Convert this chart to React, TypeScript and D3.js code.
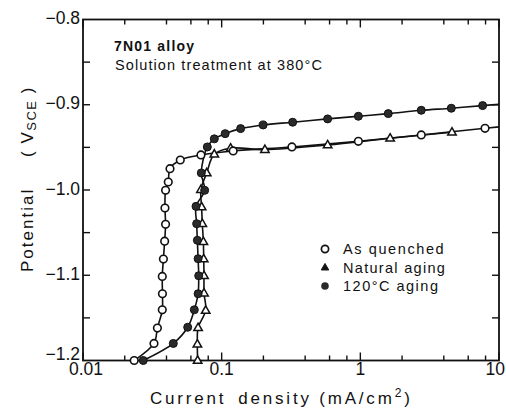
import React, { useEffect, useRef } from 'react';
import * as d3 from 'd3';

// current density (mA/cm2) and potential (V vs SCE)
const quenchedI = [0.0234, 0.0325, 0.0344, 0.0373, 0.0374, 0.0373, 0.038, 0.0388, 0.0394, 0.039, 0.0394, 0.0412, 0.0424, 0.0503, 0.0709, 0.121, 0.321, 0.968, 2.75, 7.93];
const quenchedE = [-1.2, -1.18, -1.162, -1.1405, -1.1217, -1.1014, -1.081, -1.06, -1.0403, -1.0211, -1.0004, -0.9906, -0.975, -0.9648, -0.9589, -0.9542, -0.9495, -0.9429, -0.9354, -0.9276];

const naturalI = [0.0671, 0.0668, 0.0676, 0.0767, 0.0746, 0.0746, 0.0742, 0.0738, 0.0725, 0.0717, 0.0709, 0.078, 0.0885, 0.116, 0.205, 0.581, 1.64, 4.58];
const naturalE = [-1.2, -1.181, -1.1616, -1.1413, -1.121, -1.1006, -1.081, -1.0607, -1.0395, -1.02, -0.9996, -0.98, -0.958, -0.951, -0.9526, -0.9472, -0.9393, -0.9323];

const aging120I = [0.0272, 0.0448, 0.0569, 0.0635, 0.0676, 0.0683, 0.0676, 0.0668, 0.066, 0.0653, 0.0754, 0.0713, 0.0788, 0.0885, 0.106, 0.137, 0.199, 0.325, 0.581, 0.968, 1.59, 2.75, 4.53, 7.62];
const aging120E = [-1.2, -1.18, -1.161, -1.1405, -1.1217, -1.1006, -1.0806, -1.059, -1.0395, -1.0192, -1.0004, -0.98, -0.9495, -0.94, -0.9339, -0.928, -0.9237, -0.9205, -0.9166, -0.9135, -0.9104, -0.9065, -0.9041, -0.901];

// where the two upper lines leave the frame at 10 mA/cm2
const lineEndI = 10;
const quenchedEndE = -0.926;
const aging120EndE = -0.8995;

const xTickValues = [0.01, 0.1, 1, 10];
const xTickLabels = ['0.01', '0.1', '1', '10'];
const yTickValues = [-0.8, -0.9, -1.0, -1.1, -1.2];
const yTickLabels = ['−0.8', '−0.9', '−1.0', '−1.1', '−1.2'];
const legendLabels = ['As quenched', 'Natural aging', '120°C aging'];

const W = 506;
const H = 408;
const FONT = '"Liberation Sans", Arial, sans-serif';

const App: React.FC = () => {
  const svgRef = useRef<SVGSVGElement>(null);

  useEffect(() => {
    if (!svgRef.current) return;
    d3.select(svgRef.current).selectAll('*').remove();

    const left = 83, right = 499, top = 19.5, bottom = 360.5;
    const svg = d3.select(svgRef.current).attr('width', W).attr('height', H);

    const x = d3.scaleLog().domain([0.01, 10]).range([left, right]);
    const y = d3.scaleLinear().domain([-1.2, -0.8]).range([bottom, top]);

    svg.append('defs').append('clipPath').attr('id', 'plot-clip')
      .append('rect').attr('x', left).attr('y', top).attr('width', right - left).attr('height', bottom - top);

    // frame
    svg.append('rect')
      .attr('x', left).attr('y', top).attr('width', right - left).attr('height', bottom - top)
      .attr('fill', 'none').attr('stroke', '#111').attr('stroke-width', 1.8);

    // x ticks (inward, top and bottom)
    const minorX: number[] = [];
    [0.01, 0.1, 1].forEach((d) => [2, 4, 6, 8].forEach((m) => minorX.push(d * m)));
    const tickG = svg.append('g').attr('stroke', '#111').attr('stroke-width', 1.4);
    xTickValues.forEach((v) => {
      tickG.append('line').attr('x1', x(v)).attr('x2', x(v)).attr('y1', bottom).attr('y2', bottom - 8);
      tickG.append('line').attr('x1', x(v)).attr('x2', x(v)).attr('y1', top).attr('y2', top + 8);
    });
    minorX.forEach((v) => {
      tickG.append('line').attr('x1', x(v)).attr('x2', x(v)).attr('y1', bottom).attr('y2', bottom - 5);
      tickG.append('line').attr('x1', x(v)).attr('x2', x(v)).attr('y1', top).attr('y2', top + 5);
    });
    // y ticks every 0.05 (inward, left and right)
    d3.range(-1.15, -0.8, 0.05).forEach((v) => {
      tickG.append('line').attr('x1', left).attr('x2', left + 7).attr('y1', y(v)).attr('y2', y(v));
      tickG.append('line').attr('x1', right).attr('x2', right - 7).attr('y1', y(v)).attr('y2', y(v));
    });

    // tick labels
    const labelG = svg.append('g').attr('font-family', FONT).attr('font-size', 17.5).attr('fill', '#111');
    yTickValues.forEach((v, i) => {
      labelG.append('text')
        .attr('x', left - 3)
        .attr('y', y(v) + (i === yTickValues.length - 1 ? -5 : 0))
        .attr('text-anchor', 'end')
        .attr('dominant-baseline', 'middle')
        .text(yTickLabels[i]);
    });
    xTickValues.forEach((v, i) => {
      const last = i === xTickValues.length - 1;
      labelG.append('text')
        .attr('x', last ? W - 1 : x(v) + (i === 0 ? 3 : 0))
        .attr('y', 375)
        .attr('text-anchor', last ? 'end' : 'middle')
        .text(xTickLabels[i]);
    });

    // axis titles
    const xt = svg.append('text')
      .attr('x', 150).attr('y', 404)
      .attr('font-family', FONT).attr('font-size', 17).attr('letter-spacing', 2.8).attr('fill', '#111');
    xt.append('tspan').text('Current');
    xt.append('tspan').attr('dx', 12).text('density (mA/cm');
    xt.append('tspan').attr('font-size', 12).attr('baseline-shift', '7').text('2');
    xt.append('tspan').text(')');

    const yt = svg.append('g').attr('transform', 'translate(33,0) rotate(-90)')
      .attr('font-family', FONT).attr('font-size', 17).attr('fill', '#111');
    yt.append('text').attr('x', -272).attr('y', 0).attr('letter-spacing', 2).text('Potential');
    const yv = yt.append('text').attr('x', -157).attr('y', 0).attr('letter-spacing', 1.5);
    yv.append('tspan').text('( V');
    yv.append('tspan').attr('font-size', 13).attr('baseline-shift', '-3').text('SCE');
    yv.append('tspan').text(' )');

    // annotation
    svg.append('text').attr('x', 114).attr('y', 51)
      .attr('font-family', FONT).attr('font-size', 14).attr('font-weight', 'bold')
      .attr('letter-spacing', 1.2).attr('fill', '#111').text('7N01 alloy');
    svg.append('text').attr('x', 115).attr('y', 70)
      .attr('font-family', FONT).attr('font-size', 14.5).attr('letter-spacing', 1.1)
      .attr('fill', '#111').text('Solution treatment at 380°C');

    // curves
    type P = [number, number];
    const line = d3.line<P>()
      .x((d) => x(d[0]))
      .y((d) => y(d[1]))
      .curve(d3.curveCatmullRom.alpha(0.5));

    const quenched: P[] = quenchedI.map((v, i) => [v, quenchedE[i]]);
    const natural: P[] = naturalI.map((v, i) => [v, naturalE[i]]);
    const aging120: P[] = aging120I.map((v, i) => [v, aging120E[i]]);

    const plot = svg.append('g').attr('clip-path', 'url(#plot-clip)');
    const lineSets: P[][] = [
      [...quenched, [lineEndI, quenchedEndE]],
      natural,
      [...aging120, [lineEndI, aging120EndE]],
    ];
    lineSets.forEach((pts) => {
      plot.append('path').datum(pts)
        .attr('fill', 'none').attr('stroke', '#111').attr('stroke-width', 1.6)
        .attr('d', line);
    });

    const tri = (cx: number, cy: number, s: number) => {
      const h = s * 0.87;
      return `M${cx},${cy - h * 0.62}L${cx + s / 2},${cy + h * 0.38}L${cx - s / 2},${cy + h * 0.38}Z`;
    };

    const marks = svg.append('g');
    natural.forEach((d) => {
      marks.append('path').attr('d', tri(x(d[0]), y(d[1]), 8.5))
        .attr('fill', '#fff').attr('stroke', '#111').attr('stroke-width', 1.5);
    });
    quenched.forEach((d) => {
      marks.append('circle').attr('cx', x(d[0])).attr('cy', y(d[1])).attr('r', 3.8)
        .attr('fill', '#fff').attr('stroke', '#111').attr('stroke-width', 1.6);
    });
    aging120.forEach((d) => {
      marks.append('circle').attr('cx', x(d[0])).attr('cy', y(d[1])).attr('r', 4)
        .attr('fill', '#2a2a2a').attr('stroke', '#111').attr('stroke-width', 1);
    });

    // legend
    const lg = svg.append('g').attr('font-family', FONT).attr('font-size', 14.5).attr('fill', '#111');
    const rows = [249, 267.5, 286];
    lg.append('circle').attr('cx', 325).attr('cy', rows[0]).attr('r', 3.6)
      .attr('fill', '#fff').attr('stroke', '#111').attr('stroke-width', 1.7);
    lg.append('path').attr('d', tri(325, rows[1], 7.5)).attr('fill', '#111').attr('stroke', '#111').attr('stroke-width', 1);
    lg.append('circle').attr('cx', 325).attr('cy', rows[2]).attr('r', 3.8).attr('fill', '#2a2a2a');
    const spacing = [1.6, 1.3, 1.5];
    legendLabels.forEach((t, i) => {
      lg.append('text').attr('x', 343).attr('y', rows[i] + 5).attr('letter-spacing', spacing[i]).text(t);
    });
  }, []);

  return (
    <svg
      ref={svgRef}
      style={{ position: 'absolute', left: 0, top: 0, background: '#fff' }}
    />
  );
};

export default App;
